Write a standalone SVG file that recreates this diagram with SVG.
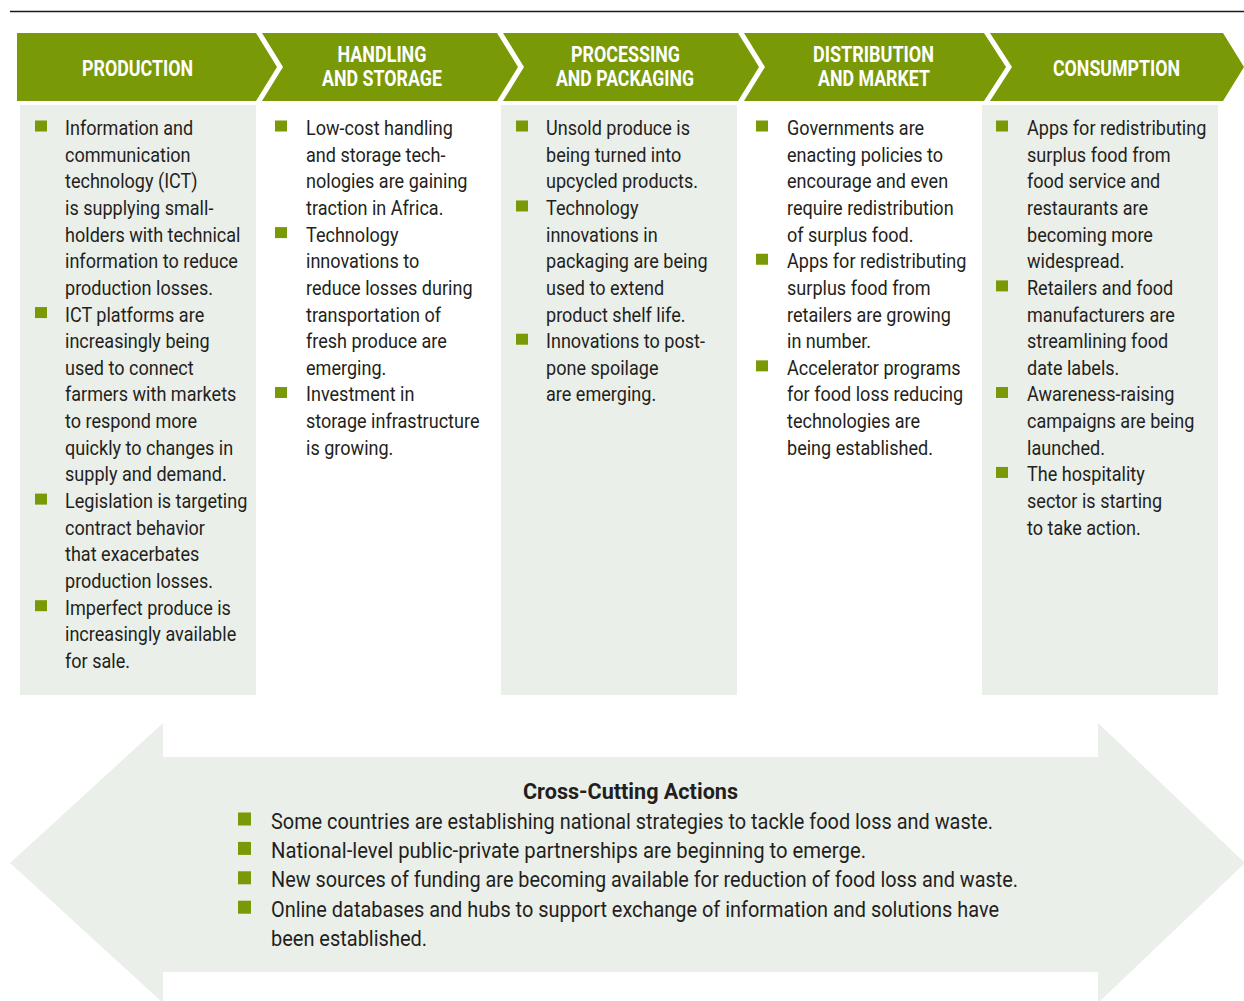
<svg xmlns="http://www.w3.org/2000/svg" width="1244" height="1001" viewBox="0 0 1244 1001">
<style>
.hdr{fill:#7a9906}
.panel{fill:#ebefea}
.bul{fill:#7a9906}
.ht{font-family:Roboto,"Liberation Sans",sans-serif;font-weight:700;font-size:22px;fill:#ffffff;text-anchor:middle}
.ct{font-family:Roboto,"Liberation Sans",sans-serif;font-weight:400;font-size:21px;fill:#231f20}
.bt{font-family:Roboto,"Liberation Sans",sans-serif;font-weight:400;font-size:22.5px;fill:#231f20}
.tt{font-family:Roboto,"Liberation Sans",sans-serif;font-weight:700;font-size:22px;fill:#231f20;text-anchor:middle}
</style>
<rect width="1244" height="1001" fill="#ffffff"/>
<line x1="10" y1="11.5" x2="1244" y2="11.5" stroke="#1a1a1a" stroke-width="1.4"/>

<g id="connectors"></g>

<g id="col-production">
<rect class="panel" x="20" y="105" width="236" height="590"/>
<path class="hdr" d="M17,33 H256 L277,67 L256,101 H17 Z"/>
<text class="ht" x="137.5" y="76" textLength="111" lengthAdjust="spacingAndGlyphs">PRODUCTION</text>
<rect class="bul" x="35" y="120.5" width="12" height="11"/>
<rect class="bul" x="35" y="307.05" width="12" height="11"/>
<rect class="bul" x="35" y="493.6" width="12" height="11"/>
<rect class="bul" x="35" y="600.2" width="12" height="11"/>
<text class="ct" transform="translate(65 0) scale(0.86 1)">
<tspan x="0" y="135">Information and</tspan>
<tspan x="0" y="161.65">communication</tspan>
<tspan x="0" y="188.3">technology (ICT)</tspan>
<tspan x="0" y="214.95">is supplying small-</tspan>
<tspan x="0" y="241.6">holders with technical</tspan>
<tspan x="0" y="268.25">information to reduce</tspan>
<tspan x="0" y="294.9">production losses.</tspan>
<tspan x="0" y="321.55">ICT platforms are</tspan>
<tspan x="0" y="348.2">increasingly being</tspan>
<tspan x="0" y="374.85">used to connect</tspan>
<tspan x="0" y="401.5">farmers with markets</tspan>
<tspan x="0" y="428.15">to respond more</tspan>
<tspan x="0" y="454.8">quickly to changes in</tspan>
<tspan x="0" y="481.45">supply and demand.</tspan>
<tspan x="0" y="508.1">Legislation is targeting</tspan>
<tspan x="0" y="534.75">contract behavior</tspan>
<tspan x="0" y="561.4">that exacerbates</tspan>
<tspan x="0" y="588.05">production losses.</tspan>
<tspan x="0" y="614.7">Imperfect produce is</tspan>
<tspan x="0" y="641.35">increasingly available</tspan>
<tspan x="0" y="668">for sale.</tspan>
</text>
</g>

<g id="col-handling">
<path class="hdr" d="M262,33 H497 L518,67 L497,101 H262 L283,67 Z"/>
<text class="ht" x="382" y="62" textLength="89" lengthAdjust="spacingAndGlyphs">HANDLING</text>
<text class="ht" x="382" y="86" textLength="120" lengthAdjust="spacingAndGlyphs">AND STORAGE</text>
<rect class="bul" x="275" y="120.5" width="12" height="11"/>
<rect class="bul" x="275" y="227.1" width="12" height="11"/>
<rect class="bul" x="275" y="387" width="12" height="11"/>
<text class="ct" transform="translate(306 0) scale(0.86 1)">
<tspan x="0" y="135">Low-cost handling</tspan>
<tspan x="0" y="161.65">and storage tech-</tspan>
<tspan x="0" y="188.3">nologies are gaining</tspan>
<tspan x="0" y="214.95">traction in Africa.</tspan>
<tspan x="0" y="241.6">Technology</tspan>
<tspan x="0" y="268.25">innovations to</tspan>
<tspan x="0" y="294.9">reduce losses during</tspan>
<tspan x="0" y="321.55">transportation of</tspan>
<tspan x="0" y="348.2">fresh produce are</tspan>
<tspan x="0" y="374.85">emerging.</tspan>
<tspan x="0" y="401.5">Investment in</tspan>
<tspan x="0" y="428.15">storage infrastructure</tspan>
<tspan x="0" y="454.8">is growing.</tspan>
</text>
</g>

<g id="col-processing">
<rect class="panel" x="501" y="105" width="236" height="590"/>
<path class="hdr" d="M503,33 H738 L759,67 L738,101 H503 L524,67 Z"/>
<text class="ht" x="625.5" y="62" textLength="109" lengthAdjust="spacingAndGlyphs">PROCESSING</text>
<text class="ht" x="625" y="86" textLength="138" lengthAdjust="spacingAndGlyphs">AND PACKAGING</text>
<rect class="bul" x="516" y="120.5" width="12" height="11"/>
<rect class="bul" x="516" y="200.45" width="12" height="11"/>
<rect class="bul" x="516" y="333.7" width="12" height="11"/>
<text class="ct" transform="translate(546 0) scale(0.86 1)">
<tspan x="0" y="135">Unsold produce is</tspan>
<tspan x="0" y="161.65">being turned into</tspan>
<tspan x="0" y="188.3">upcycled products.</tspan>
<tspan x="0" y="214.95">Technology</tspan>
<tspan x="0" y="241.6">innovations in</tspan>
<tspan x="0" y="268.25">packaging are being</tspan>
<tspan x="0" y="294.9">used to extend</tspan>
<tspan x="0" y="321.55">product shelf life.</tspan>
<tspan x="0" y="348.2">Innovations to post-</tspan>
<tspan x="0" y="374.85">pone spoilage</tspan>
<tspan x="0" y="401.5">are emerging.</tspan>
</text>
</g>

<g id="col-distribution">
<path class="hdr" d="M744,33 H984 L1006,67 L984,101 H744 L765,67 Z"/>
<text class="ht" x="873.5" y="62" textLength="121" lengthAdjust="spacingAndGlyphs">DISTRIBUTION</text>
<text class="ht" x="874" y="86" textLength="112" lengthAdjust="spacingAndGlyphs">AND MARKET</text>
<rect class="bul" x="756" y="120.5" width="12" height="11"/>
<rect class="bul" x="756" y="253.75" width="12" height="11"/>
<rect class="bul" x="756" y="360.35" width="12" height="11"/>
<text class="ct" transform="translate(787 0) scale(0.86 1)">
<tspan x="0" y="135">Governments are</tspan>
<tspan x="0" y="161.65">enacting policies to</tspan>
<tspan x="0" y="188.3">encourage and even</tspan>
<tspan x="0" y="214.95">require redistribution</tspan>
<tspan x="0" y="241.6">of surplus food.</tspan>
<tspan x="0" y="268.25">Apps for redistributing</tspan>
<tspan x="0" y="294.9">surplus food from</tspan>
<tspan x="0" y="321.55">retailers are growing</tspan>
<tspan x="0" y="348.2">in number.</tspan>
<tspan x="0" y="374.85">Accelerator programs</tspan>
<tspan x="0" y="401.5">for food loss reducing</tspan>
<tspan x="0" y="428.15">technologies are</tspan>
<tspan x="0" y="454.8">being established.</tspan>
</text>
</g>

<g id="col-consumption">
<rect class="panel" x="982" y="105" width="236" height="590"/>
<path class="hdr" d="M990,33 H1223 L1244,67 L1223,101 H990 L1012,67 Z"/>
<text class="ht" x="1116.5" y="76" textLength="127" lengthAdjust="spacingAndGlyphs">CONSUMPTION</text>
<rect class="bul" x="996" y="120.5" width="12" height="11"/>
<rect class="bul" x="996" y="280.4" width="12" height="11"/>
<rect class="bul" x="996" y="387" width="12" height="11"/>
<rect class="bul" x="996" y="466.95" width="12" height="11"/>
<text class="ct" transform="translate(1027 0) scale(0.86 1)">
<tspan x="0" y="135">Apps for redistributing</tspan>
<tspan x="0" y="161.65">surplus food from</tspan>
<tspan x="0" y="188.3">food service and</tspan>
<tspan x="0" y="214.95">restaurants are</tspan>
<tspan x="0" y="241.6">becoming more</tspan>
<tspan x="0" y="268.25">widespread.</tspan>
<tspan x="0" y="294.9">Retailers and food</tspan>
<tspan x="0" y="321.55">manufacturers are</tspan>
<tspan x="0" y="348.2">streamlining food</tspan>
<tspan x="0" y="374.85">date labels.</tspan>
<tspan x="0" y="401.5">Awareness-raising</tspan>
<tspan x="0" y="428.15">campaigns are being</tspan>
<tspan x="0" y="454.8">launched.</tspan>
<tspan x="0" y="481.45">The hospitality</tspan>
<tspan x="0" y="508.1">sector is starting</tspan>
<tspan x="0" y="534.75">to take action.</tspan>
</text>
</g>

<g id="cross-cutting">
<path class="panel" d="M10,863 L163,723 V757 H1098 V723 L1245,863 L1098,1003 V972 H163 V1003 Z"/>
<text class="tt" x="630.5" y="798.5" textLength="215" lengthAdjust="spacingAndGlyphs">Cross-Cutting Actions</text>
<rect class="bul" x="238" y="812.5" width="13" height="13"/>
<rect class="bul" x="238" y="841.9" width="13" height="13"/>
<rect class="bul" x="238" y="871.3" width="13" height="13"/>
<rect class="bul" x="238" y="900.7" width="13" height="13"/>
<text class="bt" x="271" y="828.5" textLength="722" lengthAdjust="spacingAndGlyphs">Some countries are establishing national strategies to tackle food loss and waste.</text>
<text class="bt" x="271" y="857.9" textLength="595" lengthAdjust="spacingAndGlyphs">National-level public-private partnerships are beginning to emerge.</text>
<text class="bt" x="271" y="887.3" textLength="747" lengthAdjust="spacingAndGlyphs">New sources of funding are becoming available for reduction of food loss and waste.</text>
<text class="bt" x="271" y="916.7" textLength="728" lengthAdjust="spacingAndGlyphs">Online databases and hubs to support exchange of information and solutions have</text>
<text class="bt" x="271" y="946.1" textLength="156" lengthAdjust="spacingAndGlyphs">been established.</text>
</g>
</svg>
